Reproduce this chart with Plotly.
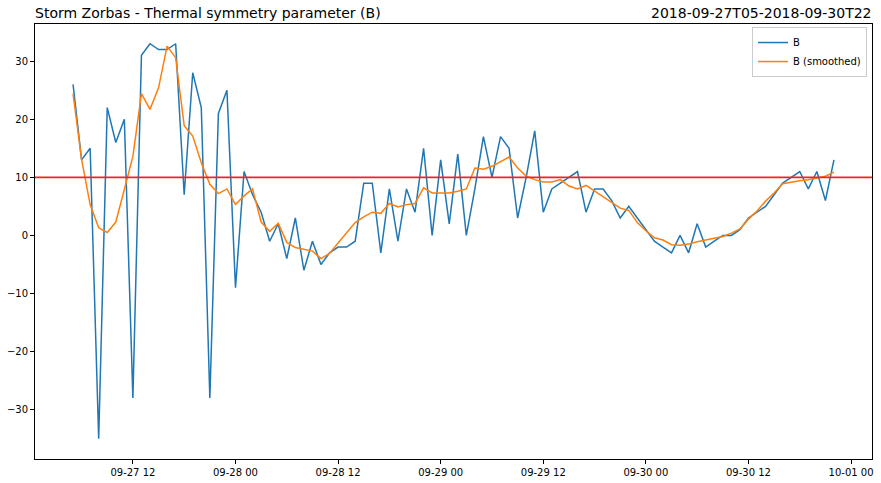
import pandas as pd
import plotly.graph_objects as go

# 逐小时数据：2018-09-27 05:00 起，共 90 个时次
START_TIME = "2018-09-27 05:00"
N_HOURS = 90

# 热力对称参数 B（原始值）
b_raw = [
    26, 13, 15, -35, 22, 16, 20, -28, 31, 33,
    32, 32, 33, 7, 28, 22, -28, 21, 25, -9,
    11, 7, 4, -1, 2, -4, 3, -6, -1, -5,
    -3, -2, -2, -1, 9, 9, -3, 8, -1, 8,
    4, 15, 0, 13, 2, 14, 0, 8, 17, 10,
    17, 15, 3, 10, 18, 4, 8, 9, 10, 11,
    4, 8, 8, 6, 3, 5, 3, 1, -1, -2,
    -3, 0, -3, 2, -2, -1, 0, 0, 1, 3,
    4, 5, 7, 9, 10, 11, 8, 11, 6, 13,
]

# 平滑后的 B
b_smooth = [
    24.4, 13.1, 5.3, 1.3, 0.5, 2.3, 7.9, 13.6, 24.4, 21.7,
    25.4, 32.6, 30.6, 18.9, 17.1, 12.5, 8.8, 7.2, 8.0, 5.3,
    6.8, 8.0, 2.3, 0.7, 2.1, -1.2, -2.1, -2.4, -2.7, -4.0,
    -3.1, -1.3, 0.4, 2.2, 3.2, 4.0, 3.8, 5.5, 4.9, 5.3,
    5.5, 8.2, 7.3, 7.3, 7.3, 7.6, 8.0, 11.6, 11.4, 11.9,
    12.7, 13.5, 11.6, 10.2, 9.6, 9.2, 9.2, 9.6, 8.5, 8.0,
    8.6, 7.6, 6.6, 5.7, 4.7, 4.3, 2.2, 0.8, -0.4, -0.8,
    -1.6, -1.7, -1.5, -1.1, -0.8, -0.5, -0.2, 0.4, 1.1, 2.8,
    4.2, 5.9, 7.3, 8.9, 9.2, 9.4, 9.6, 9.9, 10.2, 10.9,
]

THRESHOLD = 10  # 对称/非对称分界线

times = pd.date_range(START_TIME, periods=N_HOURS, freq="h")

fig = go.Figure()
fig.add_trace(go.Scatter(x=times, y=b_raw, mode="lines", name="B",
                         line=dict(color="#1f77b4", width=1.5)))
fig.add_trace(go.Scatter(x=times, y=b_smooth, mode="lines", name="B (smoothed)",
                         line=dict(color="#ff7f0e", width=1.5)))
fig.add_hline(y=THRESHOLD, line=dict(color="#ff2020", width=1.7))

# matplotlib 式 5% 边距
pad = (times[-1] - times[0]) * 0.05
x_range = [times[0] - pad, times[-1] + pad]

fig.update_layout(
    width=881, height=483,
    margin=dict(l=35, r=9, t=24, b=24, autoexpand=False),
    paper_bgcolor="white", plot_bgcolor="white",
    font=dict(family="DejaVu Sans", size=10, color="black"),
    showlegend=True,
    legend=dict(x=0.994, y=0.993, xanchor="right", yanchor="top",
                bgcolor="white", bordercolor="#cccccc", borderwidth=1,
                font=dict(size=10), itemwidth=30),
    annotations=[
        dict(text="Storm Zorbas - Thermal symmetry parameter (B)",
             xref="paper", yref="paper", x=0, y=1,
             xanchor="left", yanchor="bottom", yshift=1, xshift=-2,
             showarrow=False, font=dict(size=14)),
        dict(text="2018-09-27T05-2018-09-30T22",
             xref="paper", yref="paper", x=1, y=1,
             xanchor="right", yanchor="bottom", yshift=1, xshift=2,
             showarrow=False, font=dict(size=14)),
    ],
)
fig.update_xaxes(range=x_range, tickformat="%m-%d %H", dtick=12 * 3600 * 1000,
                 tick0="2018-09-27 00:00", automargin=False,
                 showgrid=False, zeroline=False, showline=True, mirror=True,
                 linecolor="black", linewidth=1,
                 ticks="outside", ticklen=4, tickcolor="black")
fig.update_yaxes(range=[-38.5, 36.4], dtick=10, tick0=0, automargin=False,
                 showgrid=False, zeroline=False, showline=True, mirror=True,
                 linecolor="black", linewidth=1,
                 ticks="outside", ticklen=4, tickcolor="black")

# 去掉页面默认的 body 外边距，使图正好铺满窗口；隐藏工具栏
fig.write_html("out.html", config={"displayModeBar": False},
               post_script="document.body.style.margin='0';")
